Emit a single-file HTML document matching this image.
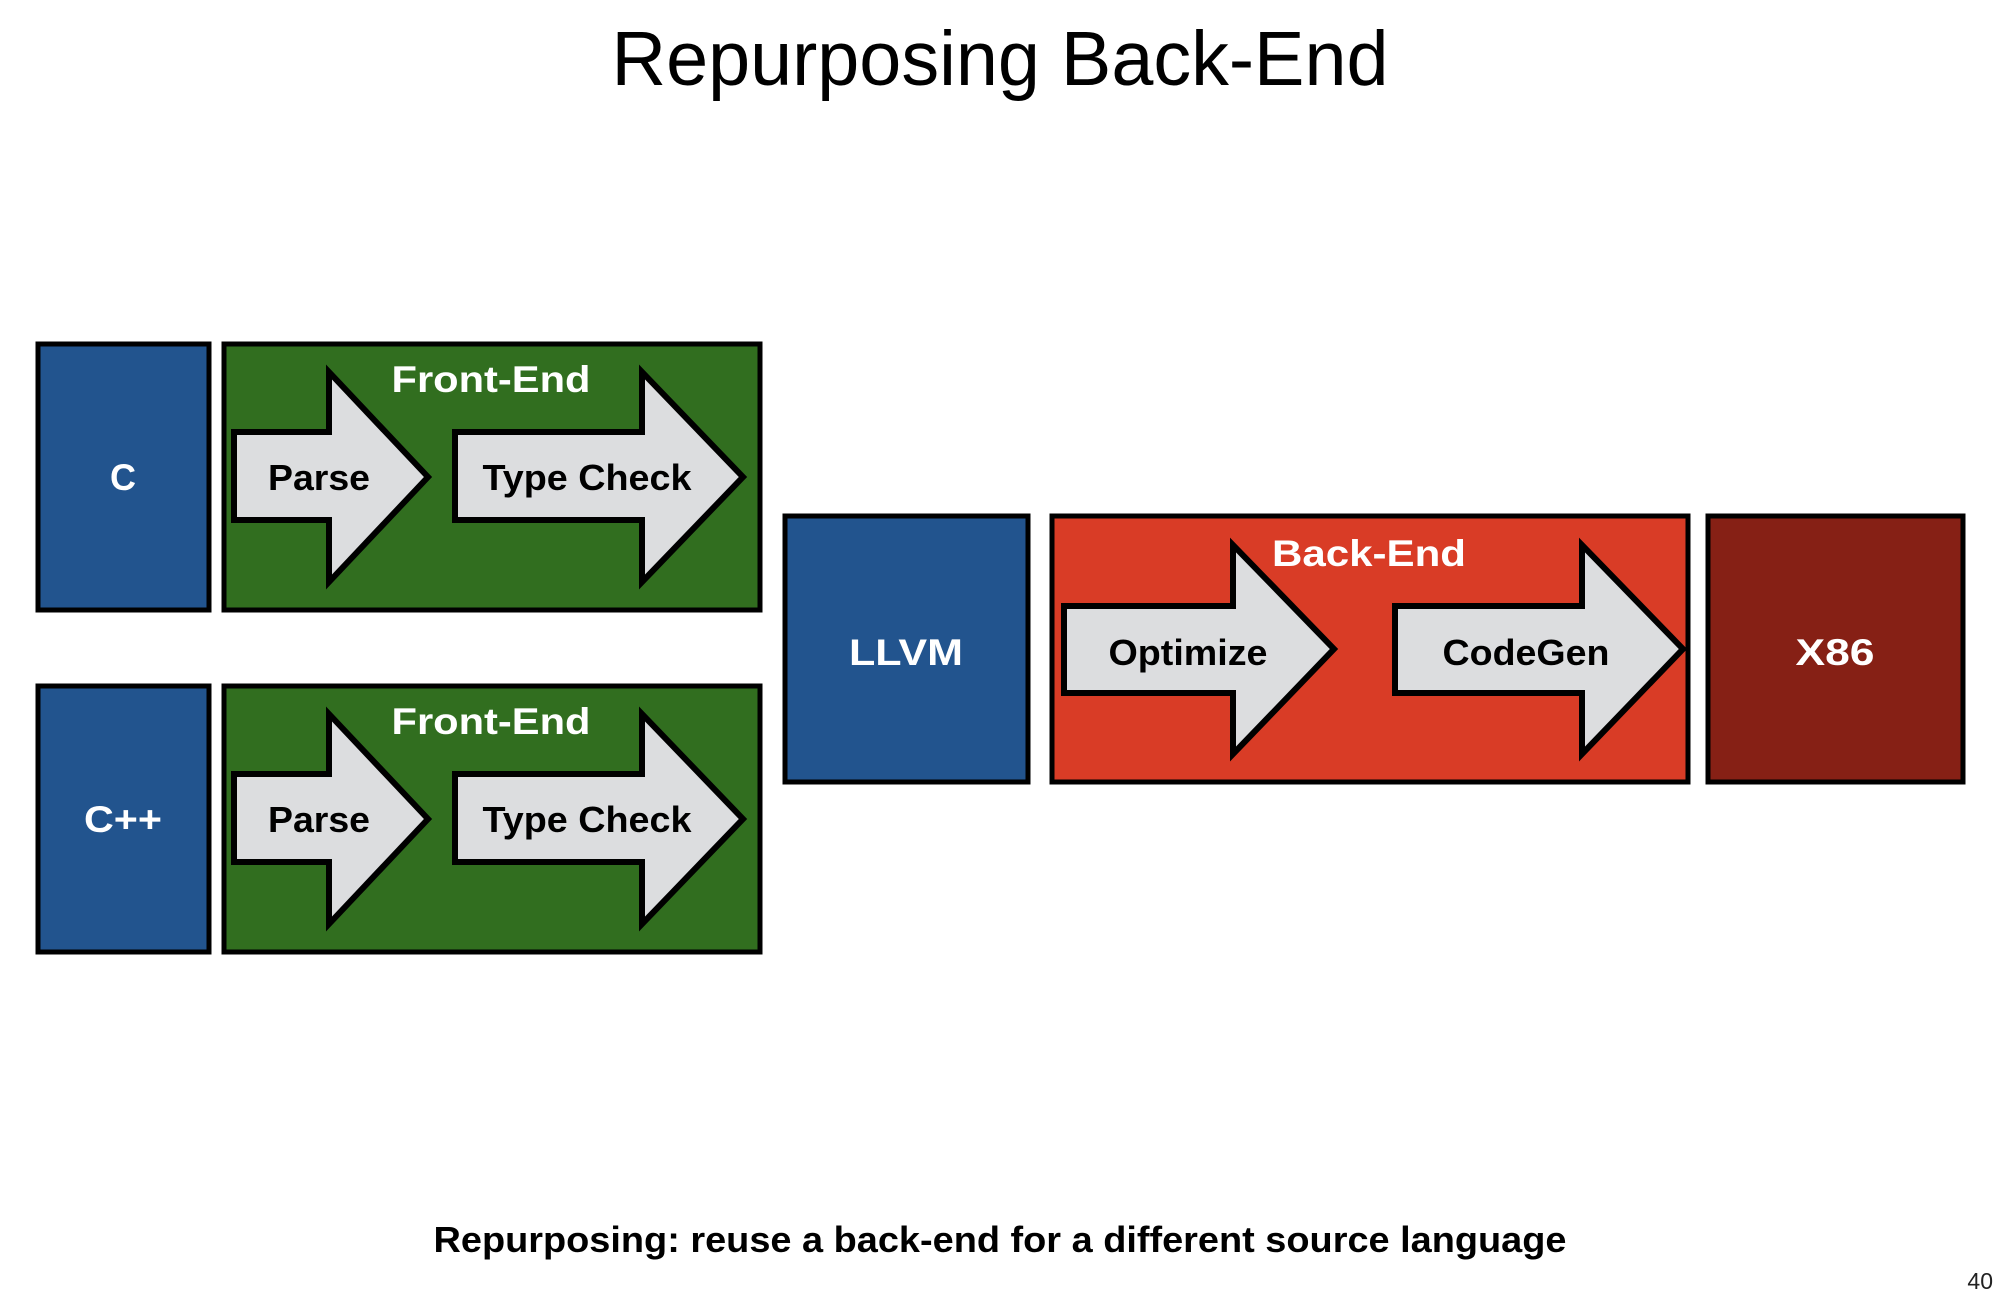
<!DOCTYPE html>
<html><head><meta charset="utf-8"><style>
html,body{margin:0;padding:0;background:#fff}
svg{display:block}
text{font-family:"Liberation Sans",Arial,sans-serif}
</style></head><body>
<svg width="2000" height="1300" viewBox="0 0 2000 1300" xmlns="http://www.w3.org/2000/svg">
<text x="1000" y="85" font-size="77" text-anchor="middle" fill="#000" textLength="777" lengthAdjust="spacingAndGlyphs">Repurposing Back-End</text>

<g stroke="#000" stroke-width="5">
  <rect x="38" y="344" width="171" height="266" fill="#22548e"/>
  <rect x="224" y="344" width="536" height="266" fill="#316e1f"/>
  <rect x="38" y="686" width="171" height="266" fill="#22548e"/>
  <rect x="224" y="686" width="536" height="266" fill="#316e1f"/>
  <rect x="785" y="516" width="243" height="266" fill="#22548e"/>
  <rect x="1052" y="516" width="636" height="266" fill="#d93c26"/>
  <rect x="1708" y="516" width="255" height="266" fill="#862015"/>
</g>

<g stroke="#000" stroke-width="6" fill="#dcdddf" stroke-linejoin="miter">
  <polygon points="234,432 329,432 329,372 428,477 329,582 329,520 234,520"/>
  <polygon points="455,432 642,432 642,372 743,477 642,582 642,520 455,520"/>
  <polygon points="234,774 329,774 329,714 428,819 329,924 329,862 234,862"/>
  <polygon points="455,774 642,774 642,714 743,819 642,924 642,862 455,862"/>
  <polygon points="1064,606 1233,606 1233,545 1334,649 1233,754 1233,693 1064,693"/>
  <polygon points="1395,606 1582,606 1582,545 1683,649 1582,754 1582,693 1395,693"/>
</g>

<g font-weight="bold" text-anchor="middle" lengthAdjust="spacingAndGlyphs">
  <text x="123" y="490" font-size="37" fill="#fff" textLength="26" lengthAdjust="spacingAndGlyphs">C</text>
  <text x="123" y="832" font-size="37" fill="#fff" textLength="78" lengthAdjust="spacingAndGlyphs">C++</text>
  <text x="491" y="392" font-size="37" fill="#fff" textLength="199" lengthAdjust="spacingAndGlyphs">Front-End</text>
  <text x="491" y="734" font-size="37" fill="#fff" textLength="199" lengthAdjust="spacingAndGlyphs">Front-End</text>
  <text x="319" y="490" font-size="36" fill="#000" textLength="102" lengthAdjust="spacingAndGlyphs">Parse</text>
  <text x="587" y="490" font-size="36" fill="#000" textLength="209" lengthAdjust="spacingAndGlyphs">Type Check</text>
  <text x="319" y="832" font-size="36" fill="#000" textLength="102" lengthAdjust="spacingAndGlyphs">Parse</text>
  <text x="587" y="832" font-size="36" fill="#000" textLength="209" lengthAdjust="spacingAndGlyphs">Type Check</text>
  <text x="906" y="665" font-size="37" fill="#fff" textLength="114" lengthAdjust="spacingAndGlyphs">LLVM</text>
  <text x="1369" y="566" font-size="37" fill="#fff" textLength="194" lengthAdjust="spacingAndGlyphs">Back-End</text>
  <text x="1188" y="665" font-size="36" fill="#000" textLength="159" lengthAdjust="spacingAndGlyphs">Optimize</text>
  <text x="1526" y="665" font-size="36" fill="#000" textLength="167" lengthAdjust="spacingAndGlyphs">CodeGen</text>
  <text x="1835" y="665" font-size="37" fill="#fff" textLength="79" lengthAdjust="spacingAndGlyphs">X86</text>
  <text x="1000" y="1252" font-size="36" fill="#000" textLength="1133" lengthAdjust="spacingAndGlyphs">Repurposing: reuse a back-end for a different source language</text>
</g>
<text x="1993" y="1289" font-size="23" text-anchor="end" fill="#222">40</text>
</svg>
</body></html>
